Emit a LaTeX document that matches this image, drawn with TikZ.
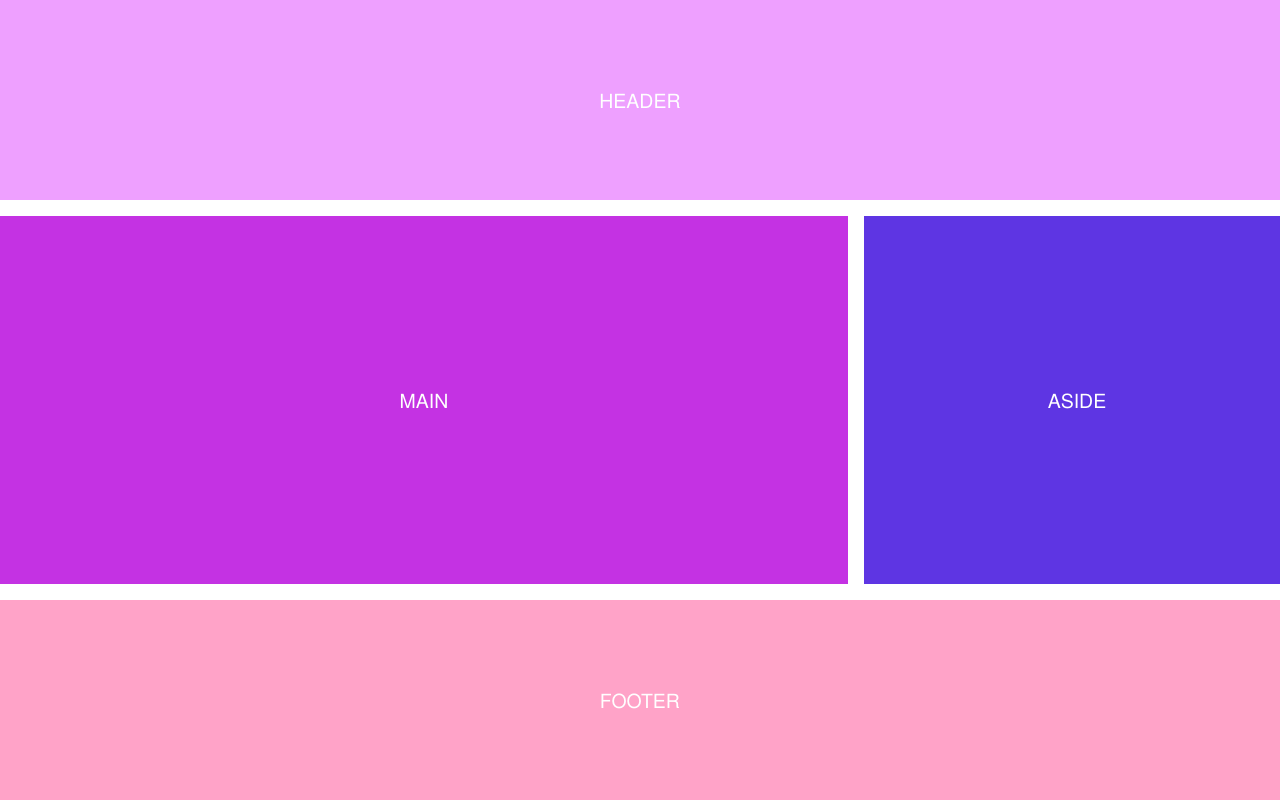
\documentclass[tikz,border=0pt]{standalone}
\usepackage{fontspec}
\setmainfont{TeX Gyre Heros}
\definecolor{hdr}{HTML}{EEA0FF}
\definecolor{mn}{HTML}{C432E3}
\definecolor{asd}{HTML}{5E35E3}
\definecolor{ftr}{HTML}{FFA3C8}
\tikzset{
  area/.style={draw=none, inner sep=0pt, outer sep=0pt},
  lbl/.style={text=white, font=\fontsize{19.5}{22}\selectfont, inner sep=0pt}
}
\begin{document}
\begin{tikzpicture}[x=1pt,y=-1pt]
\useasboundingbox[fill=white] (0,0) rectangle (1280,800);
\fill[hdr] (0,0) rectangle (1280,200);
\fill[mn] (0,216) rectangle (848,584);
\fill[asd] (864,216) rectangle (1280,584);
\fill[ftr] (0,600) rectangle (1280,800);
\node[lbl] (header) at (640,101) {HEADER};
\node[lbl] (main) at (424,401) {MAIN};
\node[lbl] (aside) at (1077,401) {ASIDE};
\node[lbl] (footer) at (640,701) {FOOTER};
\end{tikzpicture}
\end{document}
